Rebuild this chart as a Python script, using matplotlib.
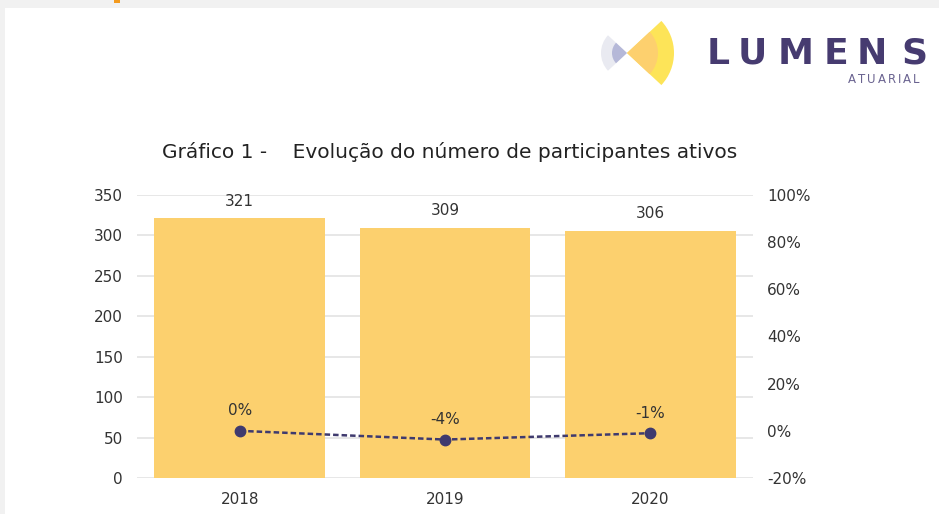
import matplotlib
matplotlib.use("Agg")
import matplotlib.pyplot as plt
from matplotlib.patches import Wedge, Rectangle

plt.rcParams['font.family'] = ['DejaVu Sans']

# data
anos = ['2018', '2019', '2020']
participantes = [321, 309, 306]
variacao = [0.0, -3.7, -1.0]          # % change vs previous year
rotulos_var = ['0%', '-4%', '-1%']

titulo = "Gráfico 1 -    Evolução do número de participantes ativos"

cor_barra = '#FCD06E'
cor_linha = '#3F3A6E'
cor_texto = '#333333'
cor_grade = '#E3E3E3'

fig = plt.figure(figsize=(9.39, 5.14), dpi=100)
renderer = fig.canvas.get_renderer()

# background frame: light grey strips at top and left
bg = fig.add_axes([0, 0, 1, 1])
bg.set_xlim(0, 939)
bg.set_ylim(514, 0)
bg.axis('off')
bg.add_patch(Rectangle((0, 0), 939, 8, color='#F1F1F1', lw=0))
bg.add_patch(Rectangle((0, 0), 5, 514, color='#F1F1F1', lw=0))
bg.add_patch(Rectangle((114, 0), 6, 3, color='#F39A1E', lw=0))

# logo
bg.add_patch(Wedge((627, 53), 26, 137, 223, color='#E9EAF1', lw=0))
bg.add_patch(Wedge((627, 53), 15, 137, 223, color='#B5B8D8', lw=0))
bg.add_patch(Wedge((627, 53), 47, -43, 43, color='#FDE458', lw=0))
bg.add_patch(Wedge((627, 53), 31, -43, 43, color='#FDD06E', lw=0))
letras = ['L', 'U', 'M', 'E', 'N', 'S']
xs_letras = [707, 738, 778, 824, 857, 901]
for l, xl in zip(letras, xs_letras):
    bg.text(xl, 64, l, fontsize=26, fontweight='bold', color='#463B70',
            ha='left', va='baseline')
# ATUARIAL, letter-spaced
xa = 848
for l in 'ATUARIAL':
    t = bg.text(xa, 83, l, fontsize=8.5, color='#6A6390', ha='left',
                va='baseline')
    xa += t.get_window_extent(renderer).width + 2.0

# main chart
ax = fig.add_axes([137 / 939, 1 - 478 / 514, (753 - 137) / 939, (478 - 195) / 514])
x = range(len(anos))
barras = ax.bar(x, participantes, width=0.83, color=cor_barra, zorder=2)
ax.set_ylim(0, 350)
ax.set_xlim(-0.5, 2.5)
ax.set_yticks(range(0, 351, 50))
ax.set_xticks(list(x))
ax.set_xticklabels(anos)
ax.yaxis.grid(True, color=cor_grade, lw=1.2, zorder=0)
ax.set_axisbelow(True)
for s in ax.spines.values():
    s.set_visible(False)
ax.tick_params(length=0, labelsize=11, colors=cor_texto, pad=10)
ax.tick_params(axis='x', pad=10)
for b, v in zip(barras, participantes):
    ax.annotate(str(v), (b.get_x() + b.get_width() / 2, v), xytext=(0, 7),
                textcoords='offset points', ha='center', va='bottom',
                fontsize=11, color=cor_texto)

ax2 = ax.twinx()
ax2.set_ylim(-20, 100)
ax2.set_yticks(range(-20, 101, 20))
ax2.set_yticklabels([f'{t}%' for t in range(-20, 101, 20)])
for s in ax2.spines.values():
    s.set_visible(False)
ax2.tick_params(length=0, labelsize=11, colors=cor_texto, pad=10)
ax2.plot(list(x), variacao, ls=(0, (2.2, 1.2)), lw=1.8, color=cor_linha,
         marker='o', ms=7.5, zorder=3)
for xi, v, r in zip(x, variacao, rotulos_var):
    ax2.annotate(r, (xi, v), xytext=(0, 9), textcoords='offset points',
                 ha='center', va='bottom', fontsize=11, color=cor_texto)

fig.text(450 / 939, 1 - 152 / 514, titulo, ha='center', va='center',
         fontsize=14.5, color='#222222')

fig.savefig('out.png', dpi=100)
